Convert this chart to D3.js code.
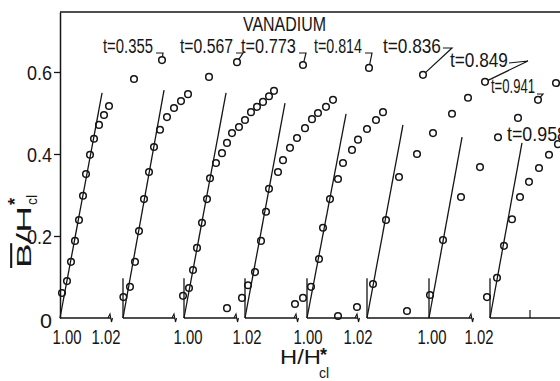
<!DOCTYPE html>
<html>
<head>
<meta charset="utf-8">
<script src="https://cdn.jsdelivr.net/npm/d3@7"></script>
<style>
body { margin: 0; background: #fff; }
svg { display: block; font-family: "Liberation Sans", Arial, sans-serif; }
</style>
</head>
<body>
<div id="chart"></div>
<script>
// reduced temperature of each run
var temps = ["0.355", "0.567", "0.773", "0.814", "0.836", "0.849", "0.941", "0.958"];
// each run is drawn shifted along H/Hc by this much
var shifts = [0, 0.0315, 0.062, 0.0925, 0.1235, 0.1535, 0.1845, 0.215];

// measured points, [H/Hc, B/Hc]
var run1 = [[1.001,0.061],[1.0035,0.090],[1.0055,0.137],[1.0075,0.188],[1.0095,0.239],[1.0115,0.298],[1.013,0.351],[1.015,0.398],[1.017,0.437],[1.0195,0.471],[1.022,0.495],[1.0245,0.517],[1.037,0.583],[1.051,0.629]];
var run2 = [[1.0002,0.051],[1.0035,0.076],[1.006,0.137],[1.008,0.212],[1.0105,0.290],[1.013,0.356],[1.0155,0.417],[1.0185,0.459],[1.022,0.490],[1.0255,0.512],[1.029,0.529],[1.0325,0.546],[1.043,0.588],[1.057,0.624]];
var run3 = [[0.9995,0.054],[1.0025,0.073],[1.0045,0.117],[1.0065,0.171],[1.009,0.232],[1.0115,0.290],[1.013,0.341],[1.016,0.378],[1.019,0.402],[1.0215,0.427],[1.024,0.451],[1.0275,0.466],[1.0305,0.483],[1.0335,0.502],[1.0365,0.515],[1.0395,0.527],[1.0425,0.541],[1.045,0.554],[1.0595,0.617]];
var run4 = [[0.991,0.024],[0.9985,0.049],[1.0015,0.080],[1.005,0.112],[1.008,0.188],[1.0105,0.259],[1.012,0.315],[1.0165,0.356],[1.019,0.385],[1.0225,0.415],[1.026,0.439],[1.030,0.463],[1.0335,0.485],[1.0365,0.500],[1.0405,0.515],[1.044,0.532],[1.062,0.610]];
var run5 = [[0.994,0.034],[0.998,0.049],[1.002,0.076],[1.006,0.144],[1.008,0.220],[1.0115,0.290],[1.0155,0.339],[1.018,0.378],[1.0225,0.410],[1.0255,0.435],[1.030,0.461],[1.0345,0.483],[1.038,0.502],[1.058,0.593]];
var run6 = [[0.9855,0.005],[0.995,0.027],[1.003,0.083],[1.0095,0.239],[1.016,0.344],[1.025,0.400],[1.033,0.451],[1.0425,0.498],[1.0505,0.537],[1.059,0.576]];
var run7 = [[0.989,0.017],[1.0005,0.056],[1.007,0.190],[1.016,0.295],[1.0255,0.368],[1.0345,0.441],[1.0445,0.488],[1.0545,0.532],[1.0635,0.573]];
var run8 = [[0.9985,0.051],[1.0035,0.098],[1.007,0.176],[1.011,0.241],[1.015,0.295],[1.0195,0.332],[1.0245,0.366],[1.0295,0.398],[1.034,0.424]];
var runs = [run1, run2, run3, run4, run5, run6, run7, run8];

// straight initial lines: slope dB/dH and where each stops
var lineSlope = [26.1, 27.1, 26.1, 26.2, 25.5, 26.2, 26.7, 26.7];
var lineTop = [0.549, 0.556, 0.549, 0.524, 0.498, 0.471, 0.441, 0.427];

var yTicks = [0, 0.2, 0.4, 0.6];
var xTickText = ["1.00", "1.02", "1.00", "1.02", "1.00", "1.02", "1.00", "1.02"];
var xTickAt = [1.0035, 1.023, 1.064, 1.0935, 1.124, 1.149, 1.186, 1.2095];
// baseline pieces (shifted H axis) and where each is broken
var axisStart = [1.000, 1.0315, 1.062, 1.0925, 1.1235, 1.1535, 1.215];
var axisBreaks = [1.0255, 1.0575, 1.0885, 1.1185, 1.149, 1.206];

var width = 560, height = 381;
var x = d3.scaleLinear().domain([1.00, 1.25]).range([60, 560]);
var y = d3.scaleLinear().domain([0, 0.7463]).range([318, 12]);

var svg = d3.select("#chart").append("svg")
  .attr("width", width).attr("height", height);

var ink = "#151515";

// squeeze text sideways to a given width (lettering in the figure is narrow)
function squeeze(sel, w) {
  sel.each(function(d, i) {
    var tw = typeof w === "function" ? w(d, i) : w;
    if (!tw) return;
    var w0 = this.getComputedTextLength();
    var xx = +(this.getAttribute("x") || 0);
    d3.select(this).attr("transform",
      "translate(" + xx + ",0) scale(" + (tw / w0) + ",1) translate(" + (-xx) + ",0)");
  });
}

// top frame line
svg.append("line")
  .attr("x1", x(1.00)).attr("x2", x(1.25))
  .attr("y1", y(0.7463)).attr("y2", y(0.7463))
  .attr("stroke", ink).attr("stroke-width", 1.5);

// left axis
var yAxis = d3.axisLeft(y).tickValues(yTicks).tickSize(6).tickSizeOuter(0).tickPadding(2)
  .tickFormat(function(d) { return d === 0 ? "0" : d3.format(".1f")(d); });
var ga = svg.append("g").attr("transform", "translate(" + x(1.00) + ",0)").call(yAxis);
ga.select(".domain").attr("stroke", ink).attr("stroke-width", 1.5);
ga.selectAll(".tick line").attr("stroke", ink).attr("stroke-width", 1.3)
  .filter(function(d) { return d === 0; }).remove();
ga.selectAll(".tick text").attr("font-size", 21).attr("fill", ink)
  .attr("font-family", "Liberation Sans, Arial, sans-serif")
  .attr("dy", function(d) { return d === 0 ? "0.45em" : "0.36em"; })
  .call(squeeze, function(d) { return d === 0 ? 12 : 25; });

// broken baseline pieces
var base = y(0);
axisStart.forEach(function(s, i) {
  var e = i < axisBreaks.length ? axisBreaks[i] : 1.25;
  svg.append("line")
    .attr("x1", x(s)).attr("x2", x(e))
    .attr("y1", base).attr("y2", base)
    .attr("stroke", ink).attr("stroke-width", 1.4);
});
axisBreaks.forEach(function(b) {
  var bx = x(b);
  svg.append("path")
    .attr("d", "M" + (bx - 3) + "," + base + "L" + (bx - 1) + "," + (base - 4) +
      "L" + (bx + 0.5) + "," + (base + 4) + "L" + (bx + 1.5) + "," + base)
    .attr("fill", "none").attr("stroke", ink).attr("stroke-width", 1.1);
});
// small tick at 1.02 on the last run
svg.append("line")
  .attr("x1", x(1.02 + shifts[7])).attr("x2", x(1.02 + shifts[7]))
  .attr("y1", base).attr("y2", base - 8)
  .attr("stroke", ink).attr("stroke-width", 1.2);

// x tick labels
svg.selectAll("text.xt").data(xTickText).enter().append("text")
  .attr("class", "xt")
  .attr("x", function(d, i) { return x(xTickAt[i]); })
  .attr("y", 344)
  .attr("text-anchor", "middle")
  .attr("font-size", 21)
  .attr("fill", ink)
  .text(function(d) { return d; })
  .call(squeeze, 29);

// one group per run
runs.forEach(function(pts, i) {
  var g = svg.append("g").attr("class", "run");
  var sx = function(h) { return x(h + shifts[i]); };
  // vertical marker at H = Hc (run 1 uses the axis itself)
  if (i > 0) {
    g.append("line")
      .attr("x1", sx(1)).attr("x2", sx(1))
      .attr("y1", y(0)).attr("y2", y(0.097))
      .attr("stroke", ink).attr("stroke-width", 1.3);
  }
  g.append("line")
    .attr("x1", sx(1)).attr("y1", y(0))
    .attr("x2", sx(1 + lineTop[i] / lineSlope[i])).attr("y2", y(lineTop[i]))
    .attr("stroke", ink).attr("stroke-width", 1.3);
  g.selectAll("circle").data(pts).enter().append("circle")
    .attr("cx", function(d) { return sx(d[0]); })
    .attr("cy", function(d) { return y(d[1]); })
    .attr("r", 3.3)
    .attr("fill", "none").attr("stroke", ink).attr("stroke-width", 1.5);
});

// t labels with their little pointers
var tLayout = [
  {x: 103, y: 53, w: 50, pt: 13, s: [3, 0], e: [10, 0]},
  {x: 180, y: 53, w: 53, pt: 13, s: [3, 0], e: [10, 0]},
  {x: 241, y: 53, w: 55, pt: 18, s: [3, 0], e: [10, 0]},
  {x: 314, y: 53, w: 48, pt: 16, s: [3, 0], e: [10, 0]},
  {x: 383, y: 53, w: 58, pt: 13, s: [2, -5], e: [11, -5]},
  {x: 450, y: 67, w: 58, pt: 9, s: [1, -4], e: [20, -6]},
  {x: 491, y: 93, w: 44, pt: 7, s: [2, 1], e: [8, 1]},
  {x: 507, y: 141, w: 60, pt: -1}
];
tLayout.forEach(function(L, i) {
  svg.append("text")
    .attr("x", L.x).attr("y", L.y)
    .attr("font-size", 20).attr("fill", ink)
    .text("t=" + temps[i])
    .call(squeeze, L.w);
  if (L.pt < 0) return;
  var p = runs[i][L.pt];
  var cx = x(p[0] + shifts[i]), cy = y(p[1]);
  var ex = L.x + L.w + L.e[0], ey = L.y + L.e[1];
  var a = Math.atan2(ey - cy, ex - cx);
  svg.append("path")
    .attr("d", "M" + (L.x + L.w + L.s[0]) + "," + (L.y + L.s[1]) + "L" + ex + "," + ey +
      "L" + (cx + 3.3 * Math.cos(a)) + "," + (cy + 3.3 * Math.sin(a)))
    .attr("fill", "none").attr("stroke", ink).attr("stroke-width", 1.2);
});

// title
svg.append("text")
  .attr("x", 243).attr("y", 31)
  .attr("font-size", 20).attr("fill", ink)
  .text("VANADIUM")
  .call(squeeze, 83);

// x axis title  H/H*cl
svg.append("text").attr("x", 280).attr("y", 364)
  .attr("font-size", 21).attr("fill", ink)
  .text("H/H")
  .call(squeeze, 41);
svg.append("text").attr("x", 320).attr("y", 361)
  .attr("font-size", 18).attr("font-weight", "bold").attr("fill", ink).text("*");
svg.append("text").attr("x", 319).attr("y", 378)
  .attr("font-size", 14).attr("fill", ink).text("cl");

// y axis title  B/H*cl, rotated
var yl = svg.append("g").attr("transform", "translate(31,268) rotate(-90)");
var ylt = yl.append("text").attr("x", 0).attr("y", 0)
  .attr("font-size", 21).attr("fill", ink);
ylt.append("tspan").attr("text-decoration", "overline").text("B");
ylt.append("tspan").text("/H");
ylt.call(squeeze, 62);
yl.append("text").attr("x", 63).attr("y", -10)
  .attr("font-size", 18).attr("font-weight", "bold").attr("fill", ink).text("*");
yl.append("text").attr("x", 63).attr("y", 6)
  .attr("font-size", 14).attr("fill", ink).text("cl");
</script>
</body>
</html>
